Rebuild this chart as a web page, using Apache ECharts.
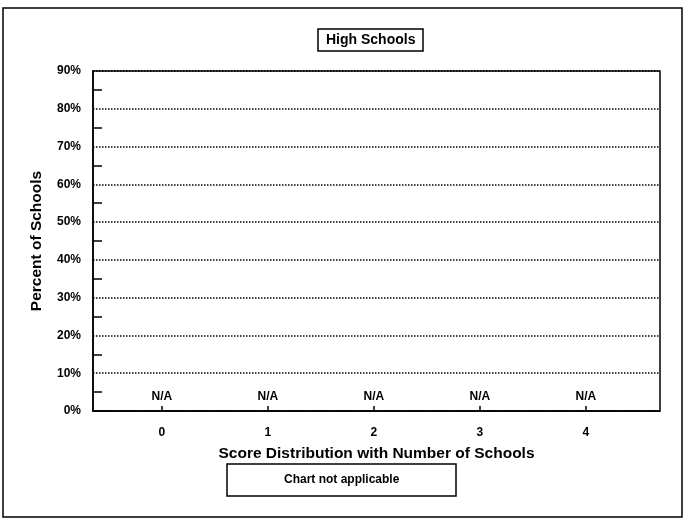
<!DOCTYPE html>
<html>
<head>
<meta charset="utf-8">
<script src="https://cdn.jsdelivr.net/npm/echarts@6/dist/echarts.min.js"></script>
<style>html,body{margin:0;padding:0;background:#fff}#c{width:684px;height:521px}</style>
</head>
<body>
<div id="c"></div>
<script>
const categories = [0, 1, 2, 3, 4];
const values = [0, 0, 0, 0, 0];
const naLabels = ['N/A', 'N/A', 'N/A', 'N/A', 'N/A'];
const yTicks = [0, 10, 20, 30, 40, 50, 60, 70, 80, 90];

const F = '"Liberation Sans", Arial, sans-serif';
const chart = echarts.init(document.getElementById('c'), null, {renderer: 'canvas'});
chart.setOption({
  animation: false,
  backgroundColor: '#fff',
  title: [
    {
      text: 'High Schools', left: 318, top: 29,
      padding: [4, 8], borderColor: '#000', borderWidth: 1.5,
      textStyle: {fontFamily: F, fontSize: 14, fontWeight: 'bold', color: '#000'}
    },
    {
      text: 'Chart not applicable', left: 227, top: 464,
      padding: [10, 57], borderColor: '#000', borderWidth: 1.5,
      textStyle: {fontFamily: F, fontSize: 12, fontWeight: 'bold', color: '#000'}
    }
  ],
  graphic: [{
    type: 'rect', shape: {x: 3, y: 8, width: 679, height: 509},
    style: {fill: 'none', stroke: '#000', lineWidth: 1.5}, silent: true
  }],
  grid: {left: 93, top: 71, right: 24, bottom: 110, show: true, borderColor: '#000', borderWidth: 1.5, containLabel: false},
  xAxis: {
    type: 'value', min: -0.65, max: 4.7,
    name: 'Score Distribution with Number of Schools',
    nameLocation: 'middle', nameGap: 35,
    nameTextStyle: {fontFamily: F, fontSize: 15.5, fontWeight: 'bold', color: '#000'},
    axisLine: {show: true, onZero: false, lineStyle: {color: '#000', width: 1.5}},
    axisTick: {show: true, inside: true, length: 5, customValues: categories, lineStyle: {color: '#000', width: 1.5}},
    axisLabel: {customValues: categories, margin: 16, fontFamily: F, fontSize: 12, fontWeight: 'bold', color: '#000',
      formatter: v => String(v)},
    splitLine: {show: false}
  },
  yAxis: {
    type: 'value', min: 0, max: 90, interval: 10,
    name: 'Percent of Schools', nameLocation: 'middle', nameGap: 48,
    nameTextStyle: {fontFamily: F, fontSize: 15.5, fontWeight: 'bold', color: '#000'},
    axisLine: {show: true, onZero: false, lineStyle: {color: '#000', width: 1.5}},
    axisTick: {show: false, inside: true},
    minorTick: {show: true, splitNumber: 2, length: 9, lineStyle: {color: '#000', width: 1.5}},
    axisLabel: {margin: 12, fontFamily: F, fontSize: 12, fontWeight: 'bold', color: '#000',
      customValues: yTicks, formatter: v => v + '%'},
    splitLine: {show: true, lineStyle: {color: '#000', width: 1.5, type: [1.5, 1.5]}}
  },
  series: [{
    type: 'scatter', clip: false, symbolSize: 0,
    itemStyle: {opacity: 1},
    data: categories.map((c, i) => [c, values[i]]),
    label: {show: true, position: 'top', distance: 8, textBorderWidth: 0,
      fontFamily: F, fontSize: 12, fontWeight: 'bold', color: '#000',
      formatter: p => naLabels[p.dataIndex]}
  }]
});
</script>
</body>
</html>
